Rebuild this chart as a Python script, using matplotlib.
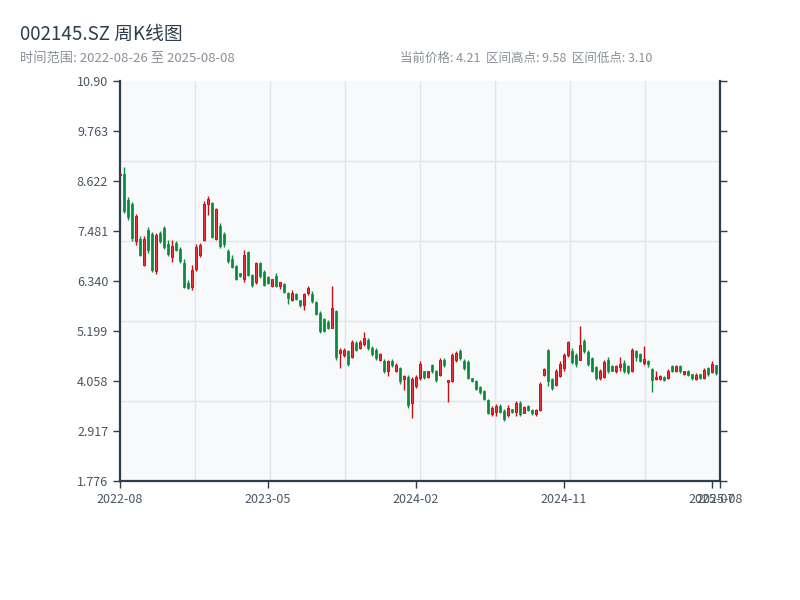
import numpy as np
import pandas as pd
import matplotlib
matplotlib.use("Agg")
import matplotlib.pyplot as plt

plt.rcParams['font.family'] = ['Noto Sans CJK SC', 'DejaVu Sans']

title = "002145.SZ 周K线图"
subtitle = "时间范围: 2022-08-26 至 2025-08-08"
stats = "当前价格: 4.21  区间高点: 9.58  区间低点: 3.10"

# weekly trading dates (holiday weeks with no trading removed)
all_weeks = pd.date_range("2022-08-26", "2025-08-08", freq="W-FRI")
closed_weeks = pd.to_datetime(["2022-10-07", "2023-01-27", "2023-10-06", "2024-02-16"])
dates = all_weeks[~all_weeks.isin(closed_weeks)]

opens = [8.76, 8.80, 8.20, 8.10, 7.25, 7.30, 6.72, 7.52, 7.42, 6.58,
         7.45, 7.56, 7.20, 6.90, 7.22, 7.08, 6.75, 6.30, 6.21, 6.62,
         6.95, 7.28, 8.10, 8.12, 7.30, 7.60, 7.42, 7.02, 6.85, 6.68,
         6.52, 6.40, 7.00, 6.48, 6.32, 6.76, 6.55, 6.43, 6.23, 6.45,
         6.23, 6.28, 6.07, 5.92, 6.05, 5.90, 5.80, 6.06, 6.05, 5.86,
         5.62, 5.48, 5.40, 5.28, 5.65, 4.70, 4.65, 4.75, 4.62, 4.92,
         4.82, 4.90, 5.00, 4.82, 4.78, 4.55, 4.52, 4.30, 4.52, 4.30,
         4.35, 4.10, 4.15, 3.56, 3.95, 4.12, 4.28, 4.16, 4.42, 4.28,
         4.20, 4.55, 4.03, 4.06, 4.55, 4.75, 4.52, 4.50, 4.12, 4.05,
         3.92, 3.84, 3.63, 3.30, 3.35, 3.50, 3.38, 3.28, 3.41, 3.35,
         3.55, 3.34, 3.50, 3.40, 3.30, 3.40, 4.20, 4.77, 4.10, 3.97,
         4.18, 4.35, 4.66, 4.75, 4.65, 4.55, 4.98, 4.72, 4.58, 4.38,
         4.12, 4.15, 4.55, 4.40, 4.28, 4.38, 4.48, 4.40, 4.30, 4.75,
         4.68, 4.48, 4.52, 4.34, 4.10, 4.10, 4.16, 4.12, 4.40, 4.30,
         4.40, 4.21, 4.30, 4.21, 4.10, 4.21, 4.13, 4.36, 4.26, 4.42,
         4.19]
highs = [8.81, 8.96, 8.27, 8.16, 7.88, 7.38, 7.38, 7.57, 7.47, 7.45,
         7.49, 7.60, 7.28, 7.28, 7.27, 7.13, 6.85, 6.37, 6.71, 7.19,
         7.21, 8.17, 8.28, 8.16, 8.02, 7.67, 7.47, 7.07, 6.95, 6.71,
         6.53, 7.06, 7.03, 6.51, 6.79, 6.79, 6.60, 6.45, 6.40, 6.53,
         6.33, 6.30, 6.09, 6.14, 6.07, 5.92, 6.08, 6.22, 6.11, 5.89,
         5.66, 5.51, 5.46, 6.24, 5.69, 4.81, 4.81, 4.78, 5.00, 4.97,
         4.99, 5.17, 5.04, 4.85, 4.81, 4.70, 4.56, 4.55, 4.57, 4.47,
         4.39, 4.20, 4.20, 4.15, 4.20, 4.51, 4.30, 4.30, 4.46, 4.32,
         4.59, 4.59, 4.09, 4.70, 4.74, 4.79, 4.56, 4.53, 4.13, 4.08,
         3.95, 3.86, 3.65, 3.48, 3.54, 3.54, 3.41, 3.52, 3.42, 3.60,
         3.60, 3.48, 3.52, 3.42, 3.42, 4.03, 4.36, 4.79, 4.13, 4.34,
         4.51, 4.70, 4.98, 4.81, 4.70, 5.31, 5.02, 4.76, 4.60, 4.41,
         4.34, 4.55, 4.60, 4.43, 4.43, 4.62, 4.53, 4.43, 4.81, 4.78,
         4.70, 4.85, 4.55, 4.36, 4.28, 4.20, 4.18, 4.34, 4.43, 4.43,
         4.43, 4.30, 4.32, 4.23, 4.24, 4.23, 4.36, 4.38, 4.51, 4.43,
         4.25]
lows = [8.75, 7.89, 7.74, 7.27, 7.17, 6.92, 6.68, 6.98, 6.56, 6.51,
        7.21, 7.08, 6.92, 6.77, 7.02, 6.75, 6.18, 6.16, 6.14, 6.58,
        6.90, 7.25, 7.85, 7.32, 7.28, 7.10, 7.12, 6.75, 6.64, 6.37,
        6.43, 6.33, 6.45, 6.21, 6.28, 6.41, 6.22, 6.28, 6.21, 6.21,
        6.16, 6.07, 5.82, 5.88, 5.90, 5.76, 5.68, 6.03, 5.84, 5.57,
        5.16, 5.17, 5.25, 5.27, 4.55, 4.35, 4.62, 4.41, 4.59, 4.74,
        4.79, 4.87, 4.78, 4.64, 4.55, 4.51, 4.24, 4.17, 4.39, 4.26,
        4.00, 3.86, 3.45, 3.22, 3.90, 4.09, 4.11, 4.13, 4.24, 4.03,
        4.17, 4.39, 3.57, 4.03, 4.49, 4.55, 4.32, 4.11, 4.03, 3.85,
        3.77, 3.62, 3.30, 3.27, 3.27, 3.32, 3.14, 3.24, 3.33, 3.27,
        3.25, 3.32, 3.37, 3.29, 3.25, 3.37, 4.18, 3.94, 3.85, 3.94,
        4.15, 4.28, 4.62, 4.46, 4.39, 4.53, 4.71, 4.41, 4.26, 4.09,
        4.08, 4.13, 4.24, 4.28, 4.24, 4.28, 4.24, 4.23, 4.26, 4.51,
        4.49, 4.43, 4.39, 3.80, 4.08, 4.09, 4.05, 4.11, 4.26, 4.26,
        4.24, 4.19, 4.18, 4.09, 4.08, 4.11, 4.11, 4.18, 4.24, 4.20,
        4.17]
closes = [8.79, 7.95, 7.80, 7.32, 7.82, 6.95, 7.30, 7.05, 6.60, 7.40,
          7.25, 7.12, 6.96, 7.15, 7.05, 6.80, 6.20, 6.18, 6.60, 7.12,
          7.17, 8.10, 8.22, 7.35, 7.98, 7.15, 7.20, 6.80, 6.66, 6.40,
          6.45, 6.95, 6.48, 6.25, 6.75, 6.45, 6.25, 6.30, 6.38, 6.24,
          6.32, 6.10, 5.95, 6.08, 5.93, 5.79, 6.05, 6.18, 5.88, 5.60,
          5.20, 5.20, 5.28, 5.73, 4.60, 4.78, 4.78, 4.45, 4.95, 4.78,
          4.95, 5.05, 4.82, 4.68, 4.58, 4.68, 4.28, 4.52, 4.42, 4.42,
          4.05, 4.18, 3.52, 4.11, 4.15, 4.45, 4.15, 4.28, 4.28, 4.08,
          4.55, 4.42, 4.08, 4.65, 4.70, 4.58, 4.35, 4.14, 4.05, 3.88,
          3.80, 3.65, 3.33, 3.45, 3.50, 3.35, 3.20, 3.45, 3.35, 3.55,
          3.30, 3.46, 3.40, 3.32, 3.40, 4.00, 4.34, 4.05, 3.90, 4.30,
          4.45, 4.65, 4.95, 4.50, 4.45, 4.89, 4.75, 4.45, 4.30, 4.12,
          4.28, 4.50, 4.28, 4.30, 4.40, 4.45, 4.30, 4.26, 4.78, 4.60,
          4.52, 4.56, 4.45, 4.09, 4.16, 4.18, 4.08, 4.30, 4.30, 4.40,
          4.28, 4.28, 4.20, 4.12, 4.20, 4.13, 4.32, 4.22, 4.45, 4.24,
          4.21]

y_min, y_step = 1.776, 1.141
y_max = y_min + 8 * y_step
up_face, up_edge = "#e8353a", "#c70f16"
down_face, down_edge = "#0b8a3e", "#0b8a3e"

o = np.array(opens); h = np.array(highs); l = np.array(lows); c = np.array(closes)
n = len(o)
x = np.arange(n)
up = c >= o

fig = plt.figure(figsize=(8, 6), dpi=100)
ax = fig.add_axes([0.15, 0.1983, 0.75, 0.666])
ax.set_facecolor("#f7f9fb")

ax.set_xlim(0, n - 1)
ax.set_ylim(y_min, y_max)

# background grid (fixed 8 x 5 layout)
for k in range(1, 8):
    ax.axvline(k * (n - 1) / 8, color="#e2e5ea", lw=1, zorder=0)
for k in range(1, 5):
    ax.axhline(y_min + k * (y_max - y_min) / 5, color="#e2e5ea", lw=1, zorder=0)

colors_w = np.where(up, up_edge, down_edge)
ax.vlines(x, l, h, colors=colors_w, lw=1.0, zorder=2)
body_bottom = np.minimum(o, c)
body_h = np.maximum(np.abs(c - o), 0.02)
ax.bar(x[up], body_h[up], bottom=body_bottom[up], width=0.7,
       color=up_face, edgecolor=up_edge, linewidth=0.7, zorder=3)
ax.bar(x[~up], body_h[~up], bottom=body_bottom[~up], width=0.7,
       color=down_face, edgecolor=down_edge, linewidth=0.5, zorder=3)

# ticks
yt = y_min + y_step * np.arange(9)
ax.set_yticks(yt)
ax.set_yticklabels([f"{v:#.4g}" for v in yt])
step = 37
xt = list(range(0, n, step)) + [n - 1]
ax.set_xticks(xt)
ax.set_xticklabels([dates[i].strftime("%Y-%m") for i in xt])

spine_c = "#2c3e50"
for s in ["left", "bottom", "right"]:
    ax.spines[s].set_color(spine_c)
    ax.spines[s].set_linewidth(1.6)
ax.spines["top"].set_visible(False)
ax.tick_params(axis="both", colors=spine_c, labelcolor="#4a5563", labelsize=9,
               length=5, width=1, direction="out")
ax.tick_params(axis="y", right=True, labelright=False)

fig.text(0.025, 0.943, title, fontsize=13.5, color="#2c3e50", va="center", ha="left")
fig.text(0.025, 0.903, subtitle, fontsize=9.5, color="#8a9099", va="center", ha="left")
fig.text(0.5, 0.903, stats, fontsize=9, color="#8a9099", va="center", ha="left")

fig.savefig("out.png", dpi=100)
